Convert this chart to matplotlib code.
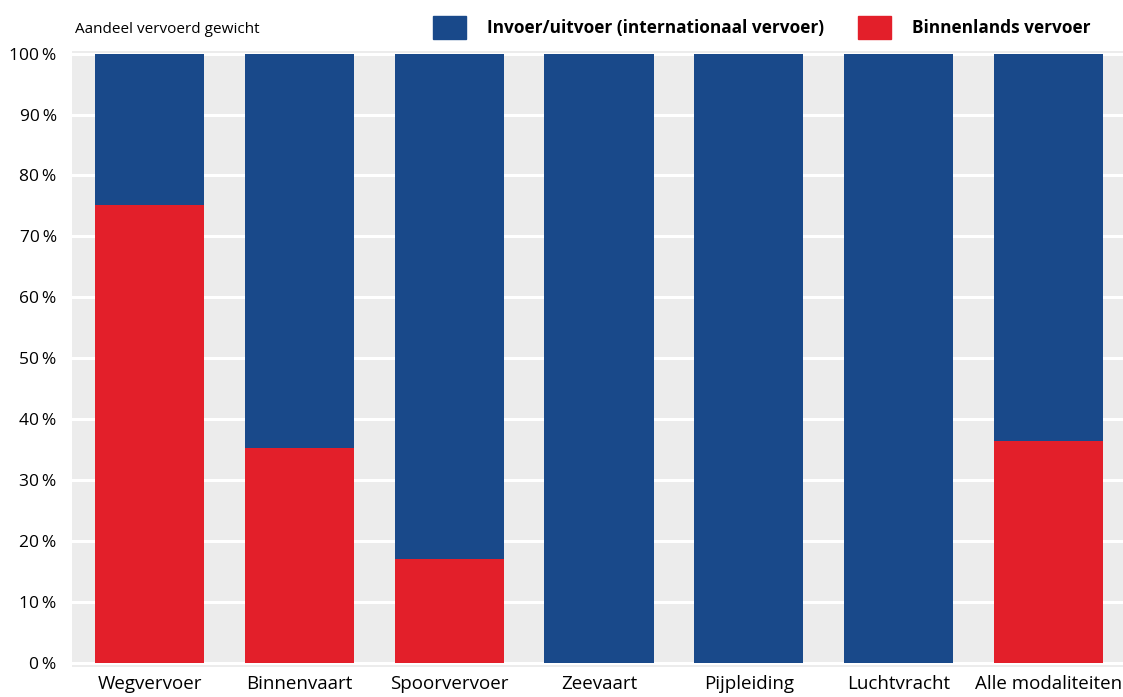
import numpy as np
import matplotlib.pyplot as plt
from matplotlib.patches import Patch
from matplotlib import font_manager

# data
modes = ['Wegvervoer', 'Binnenvaart', 'Spoorvervoer', 'Zeevaart', 'Pijpleiding', 'Luchtvracht', 'Alle modaliteiten']
binnenlands = np.array([75.1, 35.3, 17.1, 0.0, 0.0, 0.0, 36.4])
internationaal = 100 - binnenlands

blue = '#19498A'
red = '#E31F2A'

names = {f.name for f in font_manager.fontManager.ttflist}
narrow = 'Liberation Sans Narrow' if 'Liberation Sans Narrow' in names else 'Open Sans'

plt.rcParams['font.family'] = ['Open Sans', 'DejaVu Sans']

fig = plt.figure(figsize=(11.23, 6.97), dpi=100)
ax = fig.add_axes([0.0641, 0.043, 0.936, 0.8837])
ax.set_facecolor('#ECECEC')

x = np.arange(len(modes))
w = 0.73
ax.bar(x, binnenlands, w, color=red, zorder=3)
ax.bar(x, internationaal, w, bottom=binnenlands, color=blue, zorder=3)

ax.set_xlim(-0.52, 6.5)
ax.set_ylim(-0.6, 100.4)
yt = np.arange(0, 101, 10)
ax.set_yticks(yt)
ax.set_yticklabels([f'{v}\u2009%' for v in yt], fontsize=12.5)
ax.set_xticks(x)
ax.set_xticklabels(modes, fontsize=13.5)
ax.tick_params(length=0)
ax.tick_params(axis='x', pad=6)
ax.tick_params(axis='y', pad=11)
ax.grid(axis='y', color='white', linewidth=2.2, zorder=1)
ax.set_axisbelow(True)
for s in ax.spines.values():
    s.set_visible(False)

fig.text(0.067, 0.958, 'Aandeel vervoerd gewicht', fontsize=11, va='center')

handles = [Patch(color=blue), Patch(color=red)]
fig.legend(handles, ['Invoer/uitvoer (internationaal vervoer)', 'Binnenlands vervoer'],
           loc='center left', bbox_to_anchor=(0.3856, 0.961), ncol=2, frameon=False,
           prop={'family': narrow, 'weight': 'bold', 'size': 12.4},
           handlelength=1.92, handleheight=1.7, handletextpad=1.2, columnspacing=2.0,
           borderpad=0, borderaxespad=0)

fig.savefig('out.png', dpi=100)
